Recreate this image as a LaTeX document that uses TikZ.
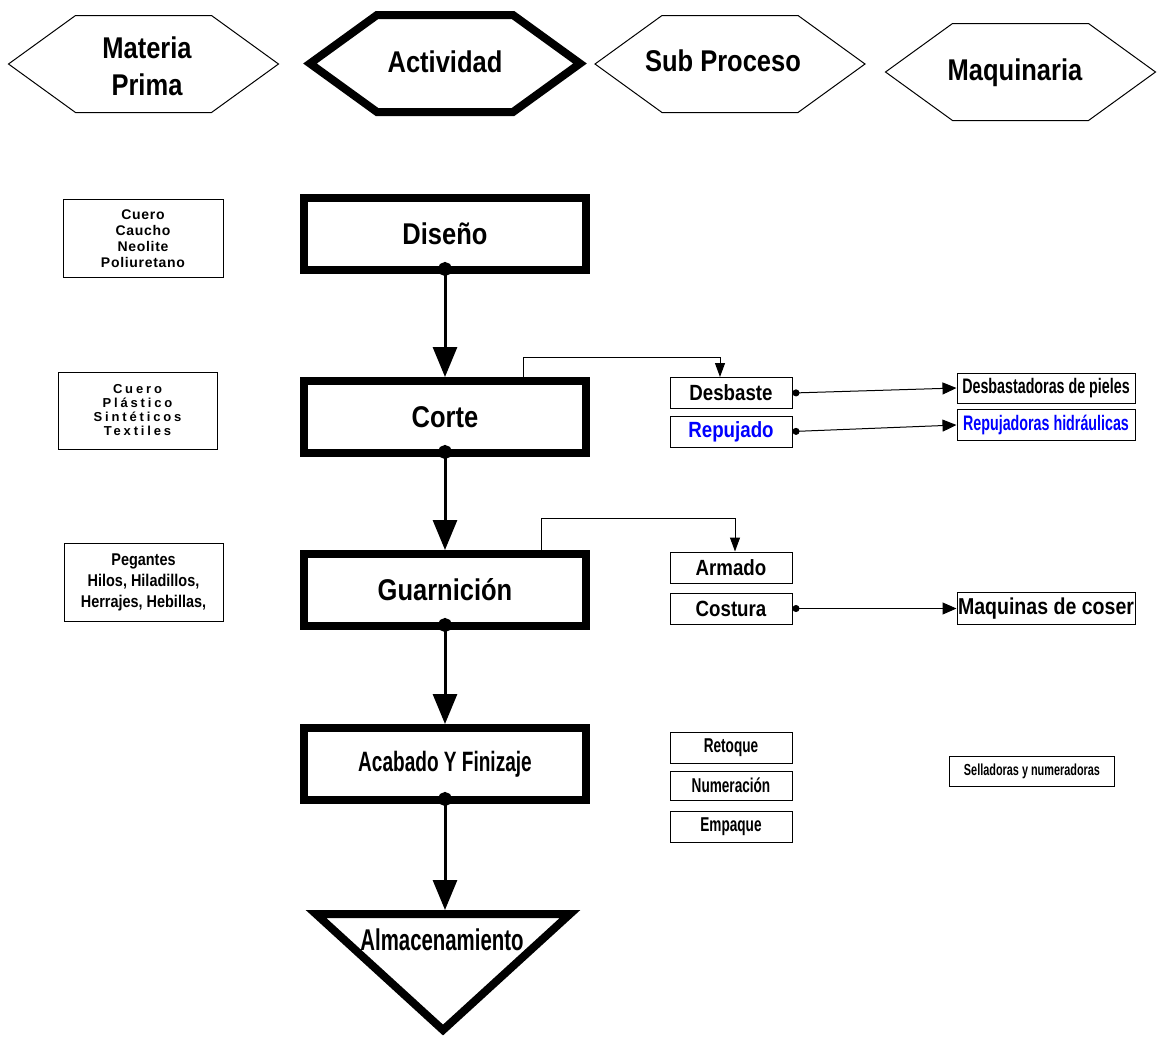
\documentclass[tikz,border=0pt]{standalone}
\usepackage{fontspec}
\setmainfont{Liberation Sans}
\newfontfamily\narrowfont[FakeStretch=0.85]{Liberation Sans}
\newfontfamily\condfont[FakeStretch=0.68]{Liberation Sans}
\newfontfamily\tightfont[LetterSpace=5]{Liberation Sans}
\newfontfamily\spacedfont[LetterSpace=22]{Liberation Sans}
\usetikzlibrary{arrows.meta}
\definecolor{repblue}{RGB}{0,0,255}

\begin{document}
\begin{tikzpicture}[x=0.5pt,y=-0.5pt,
  hexa/.pic={\draw (-135,0) -- ++(67,-48.5) -- ++(136,0) -- ++(67,48.5) -- ++(-67,48.5) -- ++(-136,0) -- cycle;},
  hextext/.style={font=\narrowfont\bfseries\fontsize{15}{18.5}\selectfont, align=center},
  activity/.style={draw, line width=4pt, minimum width=141pt, minimum height=36pt, inner sep=0pt, font=\narrowfont\bfseries\fontsize{15}{18}\selectfont},
  material/.style={draw, line width=0.5pt, minimum width=80pt, minimum height=39pt, inner sep=0pt, align=center},
  subbox/.style={draw, line width=0.5pt, minimum width=61pt, minimum height=15.5pt, inner sep=0pt, font=\narrowfont\bfseries\fontsize{11}{13}\selectfont},
  machine/.style={draw, line width=0.5pt, minimum width=89pt, minimum height=15pt, inner sep=0pt, font=\condfont\bfseries\fontsize{10.5}{12}\selectfont},
  flow/.style={line width=1.5pt, {Circle[length=7pt]}-{Triangle[length=15pt,width=12pt]}, shorten <=-6pt},
  branch/.style={line width=0.5pt, -{Triangle[length=7pt,width=5pt]}},
  tool/.style={line width=0.5pt, {Circle[length=3.5pt]}-{Triangle[length=7pt,width=6pt]}}]
  \useasboundingbox (0,0) rectangle (1157,1040);

  % headers
  \pic[line width=0.5pt] at (143.5,64) {hexa};
  \pic[line width=4pt] at (445,63.5) {hexa};
  \pic[line width=0.5pt] at (730,64) {hexa};
  \pic[line width=0.5pt] at (1020.5,72) {hexa};
  \node[hextext] (mp) at (147,66) {Materia\\Prima};
  \node[hextext] (act) at (445,62) {Actividad};
  \node[hextext] (sub) at (723,61) {Sub Proceso};
  \node[hextext] (maq) at (1015,73) {Maquinaria};

  % materia prima
  \node[material, font=\tightfont\bfseries\fontsize{7}{8}\selectfont] (mat1) at (143,238.5) {Cuero\\Caucho\\Neolite\\Poliuretano};
  \node[material, minimum width=79.5pt, minimum height=38.5pt, font=\spacedfont\bfseries\fontsize{6.5}{7}\selectfont] (mat2) at (137.5,410.5) {Cuero\\Plástico\\Sintéticos\\Textiles};
  \node[material, minimum width=79.5pt, font=\narrowfont\bfseries\fontsize{8.5}{10.5}\selectfont] (mat3) at (143.5,582.5) {Pegantes\\Hilos, Hiladillos,\\Herrajes, Hebillas,};

  % actividades
  \node[activity] (dis) at (445,234) {Diseño};
  \node[activity] (cor) at (445,417) {Corte};
  \node[activity] (gua) at (445,590) {Guarnición};
  \node[activity, font=\condfont\bfseries\fontsize{14}{16}\selectfont] (aca) at (445,764) {Acabado Y Finizaje};
  \draw[line width=4pt] (316,914) -- (570,914) -- (443,1030) -- cycle;
  \node[font=\condfont\bfseries\fontsize{15}{17}\selectfont] (alm) at (442,940) {Almacenamiento};
  \coordinate (almtop) at (445,910);

  \draw[flow] (dis.south) -- (cor.north);
  \draw[flow] (cor.south) -- (gua.north);
  \draw[flow] (gua.south) -- (aca.north);
  \draw[flow] (aca.south) -- (almtop);

  % sub procesos
  \node[subbox] (des) at (731,393) {Desbaste};
  \node[subbox, text=repblue] (rep) at (731,431.5) {Repujado};
  \node[subbox] (arm) at (731,567.5) {Armado};
  \node[subbox] (cos) at (731,608.5) {Costura};
  \node[subbox, font=\condfont\bfseries\fontsize{10}{12}\selectfont] (ret) at (731,747.5) {Retoque};
  \node[subbox, minimum height=14.5pt, font=\condfont\bfseries\fontsize{10}{12}\selectfont] (num) at (731,785.5) {Numeración};
  \node[subbox, font=\condfont\bfseries\fontsize{10}{12}\selectfont] (emp) at (731,827) {Empaque};

  \draw[branch] ([xshift=39pt]cor.north) -- ++(0,-20) -| ([xshift=-5.5pt]des.north);
  \draw[branch] ([xshift=48pt]gua.north) -- ++(0,-32) -| ([xshift=2pt]arm.north);

  % maquinaria
  \node[machine] (mdes) at (1046,388) {Desbastadoras de pieles};
  \node[machine, minimum height=15.5pt, text=repblue] (mrep) at (1046,425) {Repujadoras hidráulicas};
  \node[machine, minimum height=16pt, font=\narrowfont\bfseries\fontsize{11.5}{13}\selectfont] (mcos) at (1046,608.5) {Maquinas de coser};
  \node[machine, minimum width=82.5pt, font=\condfont\bfseries\fontsize{8}{10}\selectfont] (msel) at (1032,771.5) {Selladoras y numeradoras};

  \draw[tool] (des.east) -- (mdes.west);
  \draw[tool] (rep.east) -- (mrep.west);
  \draw[tool] (cos.east) -- (mcos.west);
\end{tikzpicture}
\end{document}
